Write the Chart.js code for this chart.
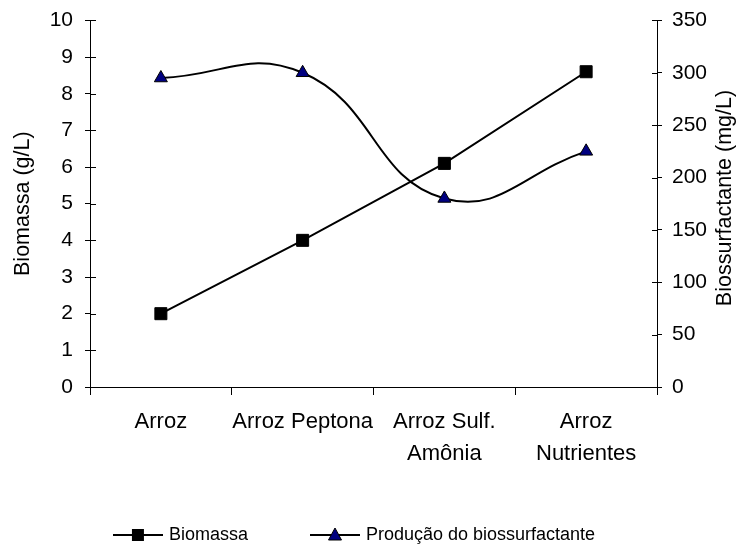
<!DOCTYPE html>
<html><head><meta charset="utf-8">
<script src="https://cdn.jsdelivr.net/npm/chart.js@4.4.0/dist/chart.umd.min.js"></script>
<style>html,body{margin:0;padding:0;background:#fff}#wrap{width:737px;height:548px;position:relative}</style>
</head><body><div id="wrap"><canvas id="c" width="737" height="548"></canvas></div>
<script>
const categories = [["Arroz"], ["Arroz Peptona"], ["Arroz Sulf.", "Amônia"], ["Arroz", "Nutrientes"]];
const biomassa = [2.0, 4.0, 6.1, 8.6];
const biossurfactante = [295, 300, 180, 225];
const leftAxisRange = [0, 10, 1];
const rightAxisRange = [0, 350, 50];
const seriesNames = ["Biomassa", "Produção do biossurfactante"];
const axisTitles = ["Biomassa (g/L)", "Biossurfactante (mg/L)"];

const FONT = "'Liberation Sans', Arial, sans-serif";
const TICK_FS = 21, CAT_FS = 22, TITLE_FS = 21.5, LEG_FS = 18;
Chart.defaults.font.family = FONT;
Chart.defaults.font.size = TICK_FS;
Chart.defaults.color = '#000';

function legendIcon(style, fill) {
  const cv = document.createElement('canvas');
  cv.width = 50; cv.height = 20;
  const g = cv.getContext('2d');
  g.strokeStyle = '#000'; g.lineWidth = 2;
  g.beginPath(); g.moveTo(0, 10); g.lineTo(50, 10); g.stroke();
  g.fillStyle = fill; g.lineWidth = 1;
  if (style === 'rect') {
    g.fillRect(19, 4, 12, 12);
  } else {
    g.beginPath(); g.moveTo(25, 3); g.lineTo(31.5, 15); g.lineTo(18.5, 15); g.closePath();
    g.fill(); g.stroke();
  }
  return cv;
}

const LEGEND_H = 87;
const extrasPlugin = {
  id: 'extras',
  beforeLayout(chart) {
    const lg = chart.legend;
    if (lg && !lg._patched) {
      const f = lg.fit.bind(lg);
      lg.fit = function () { f(); this.height = LEGEND_H; };
      lg._patched = true;
    }
  },
  afterLayout(chart) {
    const lg = chart.legend;
    if (lg) { lg.left -= 13; lg.right -= 13; }
  },
  afterDraw(chart) {
    const ctx = chart.ctx, a = chart.chartArea;
    ctx.save();
    ctx.strokeStyle = '#000'; ctx.lineWidth = 1;
    const ys = chart.scales.y, yr = chart.scales.y1;
    ctx.beginPath();
    ys.ticks.forEach(t => { const p = Math.round(ys.getPixelForValue(t.value)) + 0.5; ctx.moveTo(a.left, p); ctx.lineTo(a.left + 6, p); });
    yr.ticks.forEach(t => { const p = Math.round(yr.getPixelForValue(t.value)) + 0.5; ctx.moveTo(a.right, p); ctx.lineTo(a.right - 5, p); });
    ctx.stroke();
    ctx.font = TITLE_FS + 'px ' + FONT;
    ctx.fillStyle = '#000';
    ctx.textAlign = 'center'; ctx.textBaseline = 'middle';
    ctx.translate(725, 198);
    ctx.rotate(-Math.PI / 2);
    ctx.fillText(axisTitles[1], 0, 0);
    ctx.restore();
  }
};

new Chart(document.getElementById('c'), {
  type: 'line',
  data: {
    labels: categories,
    datasets: [
      { label: seriesNames[0], data: biomassa, yAxisID: 'y', borderColor: '#000', borderWidth: 2,
        pointStyle: 'rect', pointRadius: 8.5, pointBackgroundColor: '#000', pointBorderColor: '#000', pointBorderWidth: 1,
        tension: 0, _icon: legendIcon('rect', '#000') },
      { label: seriesNames[1], data: biossurfactante, yAxisID: 'y1', borderColor: '#000', borderWidth: 2,
        pointStyle: 'triangle', pointRadius: 7.5, pointBackgroundColor: '#000080', pointBorderColor: '#000', pointBorderWidth: 1,
        tension: 0.45, _icon: legendIcon('triangle', '#000080') }
    ]
  },
  options: {
    responsive: false,
    animation: false,
    devicePixelRatio: 1,
    layout: { padding: { top: 18, left: 0, right: 0, bottom: 0 } },
    plugins: {
      tooltip: { enabled: false },
      legend: {
        position: 'bottom',
        labels: {
          usePointStyle: true, pointStyleWidth: 44, padding: 65, color: '#000',
          font: { size: LEG_FS, family: FONT },
          generateLabels(chart) {
            return chart.data.datasets.map((d, i) => ({ text: d.label, pointStyle: d._icon, datasetIndex: i, fillStyle: '#000', strokeStyle: '#000', lineWidth: 0, fontColor: '#000' }));
          }
        }
      }
    },
    scales: {
      x: {
        offset: true,
        grid: { offset: true, drawOnChartArea: false, tickLength: 8, color: '#000', tickColor: '#000' },
        border: { color: '#000', width: 1 },
        ticks: { padding: 11, maxRotation: 0, autoSkip: false, font: { size: CAT_FS, lineHeight: 1.45 } },
        afterFit(s) { s.height = 548 - LEGEND_H - 387; }
      },
      y: {
        position: 'left', min: leftAxisRange[0], max: leftAxisRange[1],
        ticks: { stepSize: leftAxisRange[2], padding: 12, font: { size: TICK_FS, lineHeight: 0.8 } },
        grid: { drawOnChartArea: false, tickLength: 5, color: '#000', tickColor: '#000' },
        border: { color: '#000', width: 1 },
        title: { display: true, text: axisTitles[0], font: { size: TITLE_FS }, padding: { top: 10, bottom: 0 } },
        afterFit(s) { s.width = 90; }
      },
      y1: {
        position: 'right', min: rightAxisRange[0], max: rightAxisRange[1],
        ticks: { stepSize: rightAxisRange[2], padding: 10, font: { size: TICK_FS, lineHeight: 0.8 } },
        grid: { drawOnChartArea: false, tickLength: 5, color: '#000', tickColor: '#000' },
        border: { color: '#000', width: 1 },
        afterFit(s) { s.width = 80; }
      }
    }
  },
  plugins: [extrasPlugin]
});
</script>
</body></html>
